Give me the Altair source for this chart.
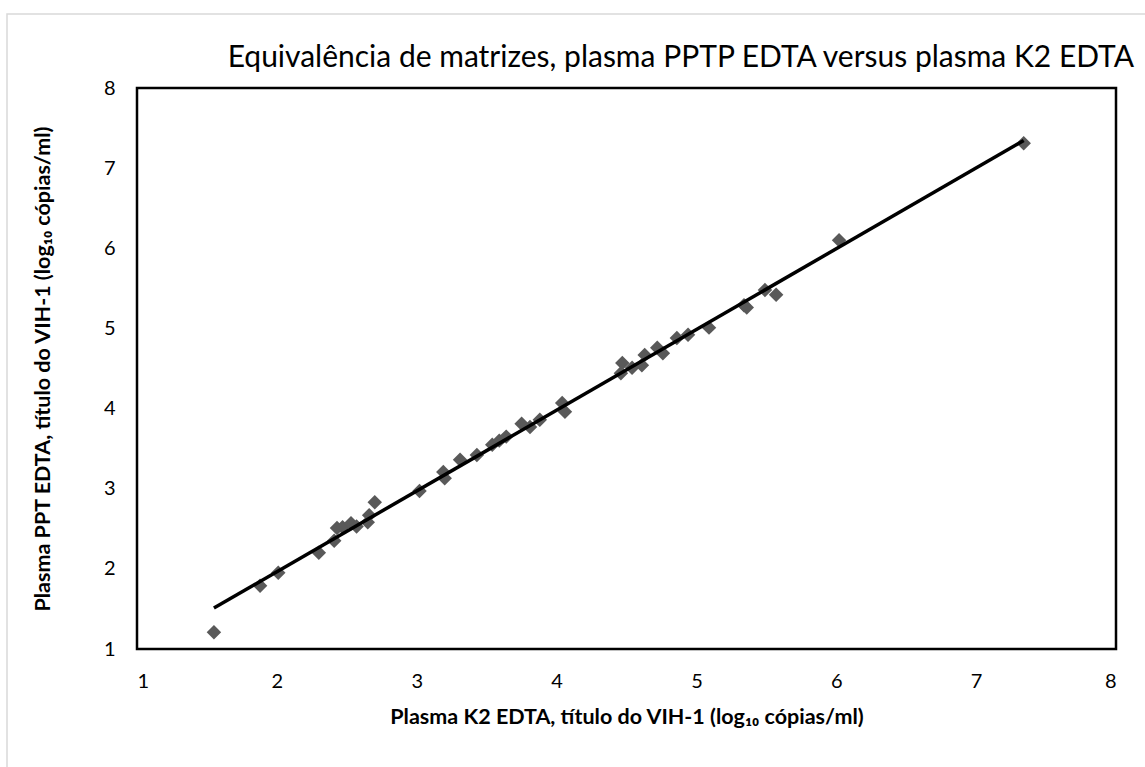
import altair as alt
import pandas as pd

# Plasma K2 EDTA (log10 copies/ml)
k2_edta = [1.55, 1.88, 2.01, 2.30, 2.41, 2.43, 2.47, 2.53, 2.57, 2.65, 2.66, 2.70,
           3.02, 3.19, 3.20, 3.31, 3.43, 3.54, 3.59, 3.64, 3.75, 3.81, 3.88, 4.04, 4.06,
           4.46, 4.47, 4.54, 4.61, 4.63, 4.72, 4.76, 4.86, 4.94, 5.09, 5.34, 5.36, 5.49,
           5.57, 6.02, 7.34]
# Plasma PPT EDTA (log10 copies/ml)
ppt_edta = [1.21, 1.79, 1.95, 2.20, 2.35, 2.51, 2.52, 2.57, 2.53, 2.58, 2.67, 2.83,
            2.97, 3.21, 3.13, 3.36, 3.42, 3.55, 3.60, 3.65, 3.81, 3.77, 3.86, 4.07, 3.96,
            4.44, 4.57, 4.51, 4.54, 4.67, 4.76, 4.69, 4.88, 4.92, 5.01, 5.29, 5.26, 5.48,
            5.42, 6.10, 7.31]

axis_ticks = [1, 2, 3, 4, 5, 6, 7, 8]

title_text = "Equivalência de matrizes, plasma PPTP EDTA versus plasma K2 EDTA"
x_title = "Plasma K2 EDTA, título do VIH-1 (log₁₀ cópias/ml)"
y_title = "Plasma PPT EDTA, título do VIH-1 (log₁₀ cópias/ml)"

df = pd.DataFrame({"x": k2_edta, "y": ppt_edta})

FONT = "Lato"
W, H = 979, 561

xscale = alt.Scale(domain=[1, 8], nice=False, zero=False)
yscale = alt.Scale(domain=[1, 8], nice=False, zero=False)

xaxis = alt.Axis(values=axis_ticks, format="d", title=x_title, grid=False, ticks=False,
                 domain=False, labelFontSize=20, labelFont=FONT, labelColor="#000000",
                 labelPadding=22, titleFont=FONT, titleFontSize=21.5, titleFontWeight="bold",
                 titleColor="#000000", titlePadding=15)
yaxis = alt.Axis(values=axis_ticks, format="d", title=y_title, grid=False, ticks=False,
                 domain=False, labelFontSize=20, labelFont=FONT, labelColor="#000000",
                 labelPadding=22, titleFont=FONT, titleFontSize=21.5, titleFontWeight="bold",
                 titleColor="#000000", titlePadding=49)

base = alt.Chart(df)

border = alt.Chart(alt.Data(values=[{"a": 1}])).mark_rect(
    fill="transparent", stroke="#d9d9d9", strokeWidth=1.5
).encode(x=alt.value(-130), x2=alt.value(1020), y=alt.value(-74), y2=alt.value(690))

points = base.mark_point(shape="diamond", filled=True, size=210, color="#595959",
                         opacity=1).encode(
    x=alt.X("x:Q", scale=xscale, axis=xaxis),
    y=alt.Y("y:Q", scale=yscale, axis=yaxis),
)

line = base.transform_regression("x", "y").mark_line(
    color="#000000", strokeWidth=3.5
).encode(
    x=alt.X("x:Q", scale=xscale),
    y=alt.Y("y:Q", scale=yscale),
)

chart = alt.layer(border, points, line).properties(
    width=W, height=H,
    background="#ffffff",
    title=alt.TitleParams(title_text, font=FONT, fontSize=30, fontWeight="normal",
                          color="#000000", anchor="end", frame="group",
                          baseline="alphabetic", offset=-84, dx=18),
    autosize=alt.AutoSizeParams(type="none"),
    padding={"left": 137, "top": 88, "right": 29, "bottom": 118},
).configure_view(
    stroke="#000000", strokeWidth=2.5
)

chart.save("out.html", embed_options={"renderer": "svg", "actions": False})
